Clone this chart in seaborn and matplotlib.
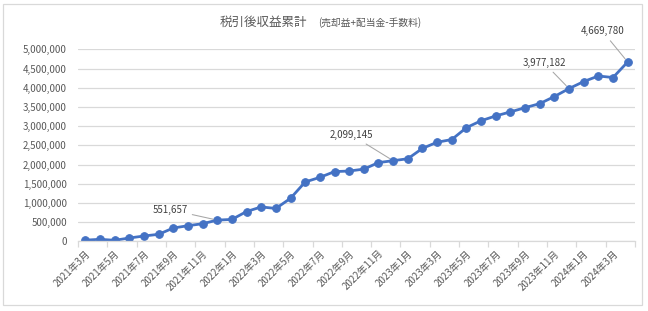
import matplotlib
matplotlib.use("Agg")
import matplotlib.pyplot as plt
import seaborn as sns
import pandas as pd
from matplotlib.patches import Rectangle
from matplotlib.ticker import FuncFormatter, MultipleLocator, FixedLocator

# ---- data ----
start_year, start_month, n_months = 2021, 3, 38
months = [f"{d.year}年{d.month}月" for d in pd.date_range(f"{start_year}-{start_month:02d}-01", periods=n_months, freq="MS")]
values = [30000, 52000, 26000, 86000, 138000, 182000, 346000, 406000, 458000, 551657,
          570000, 775000, 895000, 855000, 1120000, 1545000, 1665000, 1815000, 1830000, 1880000,
          2050000, 2099145, 2150000, 2420000, 2580000, 2650000, 2960000, 3140000, 3265000, 3370000,
          3480000, 3585000, 3770000, 3977182, 4160000, 4305000, 4265000, 4669780]
labeled_idx = [9, 21, 33, 37]
label_offsets = [(-34, 7.5), (-30, 18.5), (-18, 18.5), (-18, 22)]
title_main = "税引後収益累計"
title_sub = "(売却益+配当金-手数料)"

df = pd.DataFrame({"idx": range(len(values)), "month": months, "value": values})

sns.set_theme(style="white")
plt.rcParams["font.family"] = ["Noto Sans CJK JP", "DejaVu Sans"]

fig = plt.figure(figsize=(6.48, 3.11), dpi=100)
W, H = 648, 311
ax = fig.add_axes([78 / W, 1 - 241.3 / H, (635 - 78) / W, (241.3 - 49.3) / H])

blue = "#4472C4"
sns.lineplot(data=df, x="idx", y="value", ax=ax, color=blue, linewidth=2.0,
             marker="o", markersize=5.5, markeredgecolor=blue, markerfacecolor=blue)

ax.set_xlim(-0.5, len(values) - 0.5)
ax.set_ylim(0, 5_000_000)
ax.yaxis.set_major_locator(MultipleLocator(500_000))
ax.yaxis.set_major_formatter(FuncFormatter(lambda v, p: f"{v:,.0f}"))
ax.grid(axis="y", color="#d9d9d9", linewidth=0.9)
ax.set_axisbelow(True)

tick_pos = list(range(0, len(values), 2))
ax.set_xticks(tick_pos)
ax.set_xticklabels([months[i] for i in tick_pos], rotation=45, ha="right",
                   va="top", rotation_mode="anchor", fontsize=7, color="#595959")
ax.xaxis.set_minor_locator(FixedLocator([i - 0.5 for i in range(0, len(values) + 1, 2)]))
ax.tick_params(axis="x", which="major", length=0, pad=5)
ax.tick_params(axis="x", which="minor", length=4, color="#d9d9d9", width=0.9, bottom=True)
ax.tick_params(axis="y", length=0, labelsize=7, labelcolor="#595959", pad=8)

for s in ["top", "right", "left"]:
    ax.spines[s].set_visible(False)
ax.spines["bottom"].set_color("#d9d9d9")
ax.spines["bottom"].set_linewidth(0.9)
ax.set_xlabel("")
ax.set_ylabel("")

for i, (dx, dy) in zip(labeled_idx, label_offsets):
    ax.annotate(f"{values[i]:,}", xy=(i, values[i]), xytext=(dx, dy), textcoords="offset points",
                ha="center", va="center", fontsize=7, color="#404040", annotation_clip=False,
                arrowprops=dict(arrowstyle="-", color="#a6a6a6", lw=0.75, shrinkA=1, shrinkB=3))

fig.text(263 / W, 1 - 22 / H, title_main, ha="center", va="center", fontsize=9, color="#595959")
fig.text(318 / W, 1 - 22.5 / H, title_sub, ha="left", va="center", fontsize=7, color="#595959")

fig.patches.append(Rectangle((3 / W, 1 - 305 / H), (642 - 3) / W, (305 - 4) / H,
                             transform=fig.transFigure, fill=False, edgecolor="#d9d9d9", linewidth=0.9))

fig.savefig("out.png", dpi=100)
